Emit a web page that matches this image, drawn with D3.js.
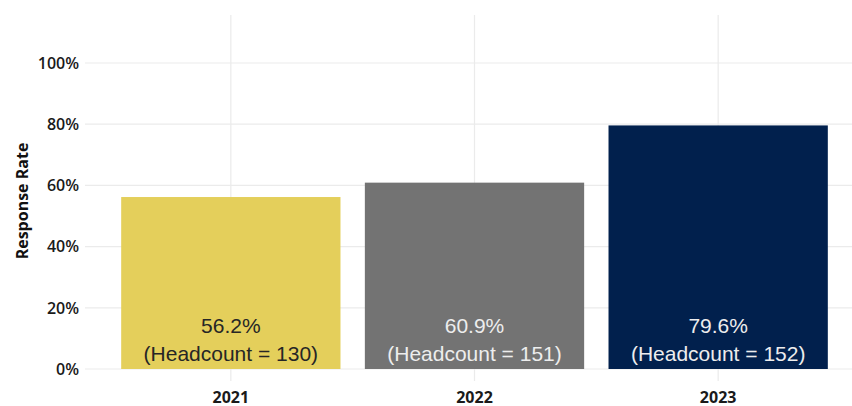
<!DOCTYPE html>
<html>
<head>
<meta charset="utf-8">
<script src="https://cdn.jsdelivr.net/npm/d3@7"></script>
<style>
  html, body { margin: 0; padding: 0; background: #fff; }
  svg { display: block; }
</style>
</head>
<body>
<svg id="chart" width="852" height="406"></svg>
<script>
// Survey response rate by year
const years = ["2021", "2022", "2023"];
const rates = [0.562, 0.609, 0.796];
const headcounts = [130, 151, 152];
const barColors = ["#E4CF5B", "#737373", "#01204D"];
const labelColors = ["#262626", "#EDEDED", "#EDEDED"];
const yTicks = [0, 0.2, 0.4, 0.6, 0.8, 1.0];

const svg = d3.select("#chart");

const plot = { left: 85, right: 852, top: 15, bottom: 381 };

const x = d3.scaleBand()
  .domain(years)
  .range([109, 840])
  .paddingInner(0.1)
  .paddingOuter(0.05);

const y = d3.scaleLinear()
  .domain([0, 1])
  .range([369, 63]);

// gridlines
const grid = svg.append("g");
grid.selectAll("line.h")
  .data(yTicks)
  .join("line")
  .attr("x1", plot.left).attr("x2", plot.right)
  .attr("y1", d => y(d)).attr("y2", d => y(d))
  .attr("stroke", "#EBEBEB").attr("stroke-width", 1.2);
grid.selectAll("line.v")
  .data(years)
  .join("line")
  .attr("x1", d => x(d) + x.bandwidth() / 2).attr("x2", d => x(d) + x.bandwidth() / 2)
  .attr("y1", plot.top).attr("y2", plot.bottom)
  .attr("stroke", "#EBEBEB").attr("stroke-width", 1.2);

// bars
const rows = years.map((yr, i) => ({ yr, rate: rates[i], hc: headcounts[i], fill: barColors[i], lc: labelColors[i] }));

svg.append("g").selectAll("rect")
  .data(rows)
  .join("rect")
  .attr("x", d => x(d.yr))
  .attr("width", x.bandwidth())
  .attr("y", d => y(d.rate))
  .attr("height", d => y(0) - y(d.rate))
  .attr("fill", d => d.fill);

// bar labels
const labels = svg.append("g")
  .attr("font-family", "Liberation Sans, Arial, sans-serif")
  .attr("font-size", 21)
  .attr("text-anchor", "middle");
labels.selectAll("text.pct")
  .data(rows)
  .join("text")
  .attr("x", d => x(d.yr) + x.bandwidth() / 2)
  .attr("y", 333)
  .attr("fill", d => d.lc)
  .text(d => (d.rate * 100).toFixed(1) + "%");
labels.selectAll("text.hc")
  .data(rows)
  .join("text")
  .attr("x", d => x(d.yr) + x.bandwidth() / 2)
  .attr("y", 361)
  .attr("fill", d => d.lc)
  .text(d => "(Headcount = " + d.hc + ")");

// y axis labels
const axisFont = "Open Sans, Lato, sans-serif";
svg.append("g").selectAll("text")
  .data(yTicks)
  .join("text")
  .attr("x", 79)
  .attr("y", d => y(d))
  .attr("dy", "0.36em")
  .attr("text-anchor", "end")
  .attr("font-family", axisFont)
  .attr("font-weight", 600)
  .attr("font-size", 16)
  .attr("fill", "#1a1a1a")
  .text(d3.format(".0%"));

// x axis labels
svg.append("g").selectAll("text")
  .data(years)
  .join("text")
  .attr("x", d => x(d) + x.bandwidth() / 2)
  .attr("y", 403)
  .attr("text-anchor", "middle")
  .attr("font-family", axisFont)
  .attr("font-weight", 700)
  .attr("font-size", 16)
  .attr("fill", "#1a1a1a")
  .text(d => d);

// y axis title
svg.append("text")
  .attr("transform", "translate(28,201) rotate(-90)")
  .attr("text-anchor", "middle")
  .attr("font-family", axisFont)
  .attr("font-weight", 700)
  .attr("font-size", 16)
  .attr("fill", "#111")
  .text("Response Rate");
</script>
</body>
</html>
